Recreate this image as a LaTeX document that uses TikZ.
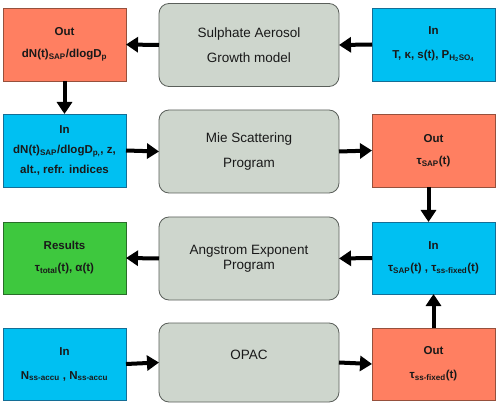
\documentclass[tikz,border=0pt]{standalone}
\usepackage{fontspec}
\setmainfont{Liberation Sans}
\usetikzlibrary{arrows.meta}
\definecolor{salmon}{RGB}{255,127,97}
\definecolor{salmonb}{RGB}{150,80,60}
\definecolor{skyb}{RGB}{0,192,242}
\definecolor{skybb}{RGB}{20,110,150}
\definecolor{grn}{RGB}{62,200,62}
\definecolor{grnb}{RGB}{40,110,40}
\definecolor{greybox}{RGB}{206,214,205}
\definecolor{greyb}{RGB}{90,95,90}
\definecolor{txt}{RGB}{25,25,25}
\newcommand{\sbx}[1]{\textsubscript{#1}}
\tikzset{
  colbox/.style={draw, line width=0.8pt, minimum width=123pt, minimum height=73pt, inner sep=0pt, outer sep=0pt, align=center, text=txt, font=\bfseries\fontsize{11.5}{14}\selectfont},
  outbox/.style={colbox, fill=salmon, draw=salmonb},
  inbox/.style={colbox, fill=skyb, draw=skybb},
  resbox/.style={colbox, fill=grn, draw=grnb},
  progbox/.style={draw=greyb, fill=greybox, line width=0.8pt, rounded corners=10pt, minimum width=180pt, minimum height=83pt, inner sep=0pt, outer sep=0pt, align=center, text=txt, font=\fontsize{13.5}{16}\selectfont},
  flow/.style={line width=4pt, -{Triangle[length=12pt,width=15pt]}, shorten >=0pt}
}
\begin{document}
\begin{tikzpicture}[x=1pt,y=-1pt]
\useasboundingbox[fill=white] (0,0) rectangle (499,404);
% program boxes
\node[progbox] (C1) at (249,45) {Sulphate Aerosol\\[9pt]Growth model};
\node[progbox] (C2) at (249,151.5) {Mie Scattering\\[9pt]Program};
\node[progbox] (C3) at (249,258.5) {Angstrom Exponent\\[-1pt]Program};
\node[progbox, minimum height=79pt] (C4) at (249,362.5) {OPAC\\[-6pt]\strut};
% left boxes
\node[outbox] (L1) at (64.5,44.5) {Out\\[8pt]dN(t)\sbx{SAP}/dlogD\sbx{p}};
\node[inbox] (L2) at (64.5,150.5) {In\\[6pt]dN(t)\sbx{SAP}/dlogD\sbx{p,}, z,\\[6pt]alt., refr. indices};
\node[resbox, minimum height=72pt] (L3) at (64.5,258) {Results\\[8pt]τ\sbx{total}(t), α(t)};
\node[inbox, minimum height=72pt] (L4) at (64.5,364) {In\\[10pt]N\sbx{ss-accu} , N\sbx{ss-accu}};
% right boxes
\node[inbox] (R1) at (433.5,44.5) {In\\[10pt]T, κ, s(t), P\sbx{H\sbx{2}SO\sbx{4}}};
\node[outbox] (R2) at (433.5,150.5) {Out\\[8pt]τ\sbx{SAP}(t)};
\node[inbox, minimum height=72pt] (R3) at (433.5,258) {In\\[8pt]τ\sbx{SAP}(t) , τ\sbx{ss-fixed}(t)};
\node[outbox, minimum height=72pt] (R4) at (433.5,364) {Out\\[10pt]τ\sbx{ss-fixed}(t)};
% connectors
\draw[flow] (C1.west) -- (L1.east);
\draw[flow] (R1.west) -- (C1.east);
\draw[flow] (L1.south) -- (L2.north);
\draw[flow] (L2.east) -- (C2.west);
\draw[flow] (C2.east) -- (R2.west);
\draw[flow] ([xshift=-5pt]R2.south) -- ([xshift=-5pt]R3.north);
\draw[flow] (R3.west) -- (C3.east);
\draw[flow] (C3.west) -- (L3.east);
\draw[flow] (L4.east) -- (C4.west);
\draw[flow] (C4.east) -- (R4.west);
\draw[flow] (R4.north) -- (R3.south);
\end{tikzpicture}
\end{document}
